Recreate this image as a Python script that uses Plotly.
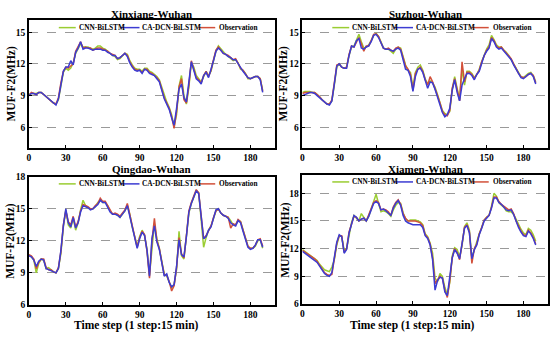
import plotly.graph_objects as go

W, H = 550, 340

steps = list(range(0, 191, 2))
x_ticks = [0, 30, 60, 90, 120, 150, 180]
legend_names = ["CNN-BiLSTM", "CA-DCN-BiLSTM", "Observation"]
panel_titles = ["Xinxiang-Wuhan", "Suzhou-Wuhan", "Qingdao-Wuhan", "Xiamen-Wuhan"]
y_title = "MUF-F2(MHz)"
x_title = "Time step (1 step:15 min)"

# ---------------- Xinxiang-Wuhan ----------------
xin_obs = [9.0, 9.3, 9.2, 9.1, 9.3, 9.3, 9.1, 8.9, 8.7, 8.5, 8.3, 8.2,
           8.8, 10.2, 11.3, 11.7, 11.6, 11.8, 12.0, 13.2, 13.6, 14.1, 13.5, 13.6,
           13.5, 13.5, 13.3, 13.4, 13.5, 13.5, 13.4, 13.3, 13.2, 13.0, 12.9, 12.8,
           12.5, 12.6, 12.8, 13.0, 12.8, 12.2, 11.8, 11.5, 11.4, 11.4, 11.2, 11.5,
           11.5, 11.2, 11.1, 10.9, 10.7, 10.4, 9.6, 8.8, 8.3, 7.8, 7.0, 5.9,
           7.5, 9.8, 10.6, 8.6, 8.3, 10.0, 12.3, 11.5, 10.7, 10.5, 10.2, 10.9,
           11.3, 10.8, 11.4, 12.4, 13.3, 13.6, 13.3, 13.0, 12.9, 12.8, 12.6, 12.4,
           12.5, 12.0, 11.6, 11.4, 11.0, 10.7, 10.6, 10.7, 10.8, 10.8, 10.6, 9.4]
xin_cnn = [9.1, 9.2, 9.2, 9.2, 9.3, 9.3, 9.1, 8.9, 8.7, 8.5, 8.3, 8.2,
           8.6, 9.9, 11.2, 11.6, 11.4, 11.6, 12.1, 13.0, 13.5, 13.9, 13.6, 13.6,
           13.6, 13.5, 13.4, 13.5, 13.7, 13.7, 13.5, 13.4, 13.2, 13.0, 12.8, 12.7,
           12.4, 12.5, 12.8, 13.0, 12.9, 12.3, 11.9, 11.6, 11.5, 11.5, 11.3, 11.6,
           11.6, 11.3, 11.2, 11.0, 10.8, 10.5, 9.8, 9.0, 8.4, 7.9, 7.2, 6.1,
           7.2, 9.9, 10.9, 9.0, 8.2, 9.8, 12.1, 11.7, 10.9, 10.6, 10.3, 10.8,
           11.3, 10.9, 11.3, 12.3, 13.2, 13.7, 13.4, 13.1, 12.9, 12.7, 12.5, 12.3,
           12.4, 12.1, 11.5, 11.4, 11.1, 10.6, 10.6, 10.7, 10.8, 10.8, 10.6, 9.5]
xin_cad = [9.0, 9.2, 9.2, 9.1, 9.3, 9.3, 9.1, 8.9, 8.7, 8.5, 8.3, 8.1,
           8.7, 10.0, 11.3, 11.7, 11.7, 12.3, 11.9, 13.1, 13.5, 14.1, 13.4, 13.5,
           13.5, 13.4, 13.3, 13.4, 13.4, 13.4, 13.3, 13.3, 13.1, 13.0, 12.8, 12.8,
           12.5, 12.6, 12.8, 13.0, 12.7, 12.1, 11.7, 11.4, 11.3, 11.4, 11.1, 11.5,
           11.4, 11.1, 11.0, 10.9, 10.6, 10.3, 9.5, 8.7, 8.2, 7.7, 6.9, 6.2,
           7.8, 9.6, 10.1, 8.8, 8.4, 10.2, 12.2, 11.4, 10.6, 10.4, 10.1, 10.9,
           11.2, 10.7, 11.4, 12.3, 13.2, 13.5, 13.3, 13.0, 12.9, 12.7, 12.6, 12.4,
           12.4, 12.0, 11.6, 11.3, 11.0, 10.7, 10.6, 10.7, 10.8, 10.8, 10.5, 9.3]

# ---------------- Suzhou-Wuhan ----------------
suz_obs = [9.2, 9.3, 9.3, 9.3, 9.3, 9.3, 9.1, 8.9, 8.6, 8.4, 8.2, 8.2,
           8.6, 10.2, 11.9, 12.0, 11.7, 11.6, 11.7, 12.9, 13.7, 13.6, 14.1, 14.5,
           13.9, 13.2, 13.7, 13.7, 14.2, 14.8, 14.85, 14.6, 14.0, 13.5, 13.4, 13.5,
           13.3, 13.2, 13.5, 13.6, 13.4, 12.6, 11.8, 11.5, 11.0, 9.5, 11.1, 11.5,
           11.7, 11.3, 10.5, 10.0, 10.8, 10.3, 9.7, 9.0, 8.3, 7.5, 7.2, 7.1,
           7.6, 9.7, 10.6, 9.5, 8.5, 12.2, 10.3, 11.2, 11.2, 11.0, 10.6, 11.0,
           11.4, 12.2, 12.8, 13.3, 13.6, 14.5, 14.2, 13.7, 13.5, 13.6, 13.3, 13.0,
           12.8, 12.5, 12.0, 11.5, 11.1, 10.8, 10.7, 10.8, 11.0, 11.1, 10.9, 10.2]
suz_cnn = [9.3, 9.4, 9.4, 9.4, 9.3, 9.3, 9.1, 8.9, 8.6, 8.4, 8.2, 8.2,
           8.5, 10.0, 11.7, 12.0, 11.7, 11.6, 11.7, 12.8, 13.6, 13.7, 14.3, 14.8,
           14.1, 13.5, 13.6, 13.8, 14.2, 14.7, 14.9, 14.6, 14.1, 13.5, 13.4, 13.4,
           13.2, 13.0, 13.4, 13.6, 13.5, 12.7, 11.9, 11.4, 11.2, 9.8, 11.2, 11.7,
           11.9, 11.4, 10.6, 10.1, 10.4, 10.2, 9.8, 9.1, 8.3, 7.6, 7.3, 7.2,
           7.5, 9.6, 10.8, 9.8, 8.6, 11.5, 10.0, 11.3, 11.3, 11.1, 10.7, 11.0,
           11.5, 12.2, 12.9, 13.4, 13.8, 14.7, 14.3, 13.8, 13.6, 13.6, 13.3, 13.1,
           12.8, 12.4, 12.0, 11.6, 11.2, 10.8, 10.7, 10.9, 11.1, 11.2, 10.9, 10.3]
suz_cad = [9.0, 9.1, 9.2, 9.3, 9.3, 9.2, 9.0, 8.8, 8.6, 8.4, 8.2, 8.1,
           8.5, 10.1, 11.8, 12.0, 11.7, 11.6, 11.6, 12.8, 13.7, 13.6, 14.2, 14.4,
           13.5, 13.4, 13.6, 13.7, 14.1, 14.7, 14.8, 14.5, 14.0, 13.5, 13.4, 13.4,
           13.3, 13.2, 13.4, 13.5, 13.3, 12.4, 11.5, 11.4, 10.8, 9.4, 10.8, 11.5,
           11.6, 11.2, 10.4, 9.7, 10.3, 10.2, 9.6, 8.9, 8.2, 7.4, 7.0, 7.2,
           7.8, 9.5, 10.5, 9.3, 8.5, 10.0, 10.6, 11.1, 11.1, 10.9, 10.5, 11.0,
           11.3, 12.1, 12.8, 13.2, 13.5, 14.4, 14.1, 13.6, 13.4, 13.5, 13.2, 12.9,
           12.7, 12.4, 11.9, 11.5, 11.1, 10.7, 10.6, 10.8, 11.0, 11.1, 10.8, 10.1]

# ---------------- Qingdao-Wuhan ----------------
qin_obs = [10.7, 10.6, 10.3, 9.4, 10.0, 10.3, 10.3, 9.5, 9.3, 9.3, 9.1, 9.0,
           9.5, 11.0, 13.5, 14.8, 13.8, 13.5, 14.3, 13.3, 13.8, 14.8, 15.4, 15.3,
           15.2, 15.0, 15.0, 15.3, 15.5, 16.0, 15.7, 15.7, 15.3, 14.8, 14.5, 14.6,
           14.5, 14.3, 14.6, 14.9, 15.5, 14.4, 13.2, 12.4, 11.4, 12.3, 12.9, 12.6,
           11.0, 8.5, 12.0, 14.1, 12.0, 11.3, 10.0, 8.8, 8.8, 8.2, 7.3, 7.8,
           9.5, 12.3, 10.8, 10.4, 12.5, 14.8, 15.6, 16.3, 16.8, 16.5, 14.0, 12.2,
           12.5, 13.0, 13.4, 14.2, 14.8, 15.0, 14.6, 14.4, 14.3, 14.2, 13.2, 13.6,
           13.5, 14.0, 13.8, 13.0, 12.3, 11.5, 11.3, 11.3, 11.6, 12.1, 12.2, 11.5]
qin_cnn = [10.7, 10.5, 10.2, 9.0, 9.9, 10.3, 10.2, 9.4, 9.5, 9.3, 9.1, 9.0,
           9.4, 10.8, 13.3, 14.9, 13.5, 13.2, 14.1, 13.0, 13.7, 14.9, 15.8, 15.3,
           15.1, 15.0, 15.0, 15.2, 15.6, 15.8, 15.6, 15.6, 15.3, 14.8, 14.5, 14.5,
           14.4, 14.2, 14.5, 14.8, 15.3, 14.5, 13.3, 12.5, 11.5, 12.4, 13.0, 12.5,
           11.2, 8.8, 11.6, 13.6, 12.2, 11.3, 10.1, 8.9, 8.7, 8.2, 7.6, 7.9,
           9.3, 12.9, 10.6, 10.3, 12.3, 14.6, 15.5, 16.2, 16.7, 16.5, 13.6, 11.4,
           12.3, 13.0, 13.4, 14.1, 14.8, 15.0, 14.6, 14.4, 14.3, 14.2, 13.9, 13.5,
           13.5, 13.9, 13.8, 13.0, 12.3, 11.5, 11.3, 11.3, 11.5, 12.0, 12.1, 11.3]
qin_cad = [10.6, 10.5, 10.2, 9.6, 10.1, 10.3, 10.2, 9.4, 9.3, 9.2, 9.1, 9.0,
           9.4, 11.1, 13.4, 15.0, 13.7, 13.3, 14.2, 13.2, 13.7, 14.7, 15.3, 15.2,
           15.1, 14.9, 15.0, 15.2, 15.4, 15.8, 15.6, 15.6, 15.2, 14.7, 14.5, 14.5,
           14.4, 14.2, 14.5, 14.8, 15.3, 14.3, 13.1, 12.3, 11.3, 12.2, 12.8, 12.5,
           11.1, 8.7, 12.2, 13.4, 11.9, 11.2, 9.9, 8.7, 8.9, 8.1, 7.7, 7.9,
           9.6, 12.1, 10.7, 10.5, 12.4, 14.7, 15.5, 16.2, 16.7, 16.4, 14.0, 12.2,
           12.4, 13.0, 13.3, 14.1, 14.9, 15.0, 14.6, 14.4, 14.3, 14.1, 13.7, 13.5,
           13.4, 13.9, 13.7, 12.9, 12.2, 11.4, 11.2, 11.3, 11.6, 12.1, 12.1, 11.4]

# ---------------- Xiamen-Wuhan ----------------
xia_obs = [11.8, 11.6, 11.4, 11.3, 11.1, 10.9, 10.6, 10.2, 9.8, 9.4, 9.2, 9.1,
           9.2, 11.0, 12.6, 13.4, 13.4, 11.6, 12.0, 13.8, 14.8, 15.5, 15.4, 15.0,
           15.2, 15.3, 15.0, 15.6, 16.3, 17.0, 17.2, 17.0, 16.2, 16.3, 16.2, 16.0,
           15.6, 16.5, 17.0, 17.3, 16.8, 15.8, 15.3, 15.0, 15.0, 15.0, 15.0, 14.9,
           14.8, 14.5, 13.5, 13.2, 12.5, 11.0, 8.2, 8.6, 9.0, 8.8, 7.5, 6.7,
           8.5, 11.0, 12.0, 11.6, 10.8, 12.5, 14.3, 14.6, 13.8, 10.4, 12.0, 12.5,
           13.6, 14.3, 15.1, 15.4, 15.6, 16.5, 17.6, 17.6, 17.1, 16.8, 16.6, 16.3,
           16.2, 16.3, 15.8, 15.0, 14.4, 13.9, 13.5, 13.4, 14.0, 13.7, 13.2, 12.5]
xia_cnn = [11.9, 11.7, 11.5, 11.3, 11.1, 10.9, 10.7, 10.3, 10.0, 9.7, 9.6, 9.5,
           10.0, 10.8, 12.4, 13.4, 13.3, 11.8, 12.0, 13.6, 14.8, 15.6, 15.3, 15.0,
           15.8, 15.4, 15.0, 15.5, 16.3, 17.0, 17.9, 16.9, 16.0, 16.1, 16.0, 15.8,
           15.5, 16.2, 16.7, 17.0, 16.9, 15.9, 15.2, 15.0, 15.1, 15.1, 15.1, 15.0,
           14.9, 14.6, 13.6, 13.3, 12.6, 11.5, 8.8, 8.4, 9.3, 9.0, 7.8, 7.0,
           8.3, 11.2, 12.1, 11.9, 11.1, 12.3, 14.4, 14.8, 14.0, 11.0, 11.9, 12.6,
           13.6, 14.3, 15.1, 15.4, 15.6, 16.6, 18.0, 17.7, 17.0, 16.7, 16.5, 16.1,
           16.0, 16.0, 15.7, 15.2, 14.6, 14.1, 13.7, 13.5, 14.2, 14.0, 13.5, 12.8]
xia_cad = [11.7, 11.5, 11.3, 11.1, 11.0, 10.8, 10.5, 10.1, 9.7, 9.3, 9.1, 9.0,
           9.4, 11.2, 12.7, 13.5, 13.3, 11.5, 11.9, 13.7, 14.8, 15.6, 15.4, 15.0,
           15.2, 15.3, 15.0, 15.5, 16.2, 16.9, 17.1, 16.9, 16.2, 16.3, 16.1, 15.9,
           15.6, 16.4, 16.9, 17.2, 16.7, 15.6, 15.0, 14.8, 14.7, 14.6, 14.6, 14.6,
           14.6, 14.3, 13.4, 13.1, 12.4, 10.8, 7.5, 8.5, 8.9, 8.8, 7.3, 6.9,
           8.7, 11.0, 11.9, 11.5, 10.9, 12.4, 14.2, 14.5, 13.7, 10.9, 11.9, 12.4,
           13.5, 14.2, 15.0, 15.3, 15.6, 16.4, 17.5, 17.5, 17.0, 16.8, 16.5, 16.2,
           16.1, 16.2, 15.7, 14.9, 14.3, 13.8, 13.4, 13.3, 13.9, 13.6, 13.1, 12.4]

# ---------------- styling ----------------
C_CNN = "#9ACD32"
C_CAD = "#3C3CD2"
C_OBS = "#D2503A"
FONT = "Liberation Serif, Times New Roman, serif"

def fx(px):
    return px / W

def fy(py):
    return 1 - py / H

panels = [
    dict(title=panel_titles[0], obs=xin_obs, cnn=xin_cnn, cad=xin_cad,
         box=(27, 274, 15, 147), yr=[4.07, 16.2], yt=[6, 9, 12, 15],
         title_y=9, ytitle_x=10, xtitle_x=None, legend_y=23.3),
    dict(title=panel_titles[1], obs=suz_obs, cnn=suz_cnn, cad=suz_cad,
         box=(301.5, 548, 15, 147), yr=[4.07, 16.2], yt=[6, 9, 12, 15],
         title_y=9, ytitle_x=283, xtitle_x=None, legend_y=23.3),
    dict(title=panel_titles[2], obs=qin_obs, cnn=qin_cnn, cad=qin_cad,
         box=(27, 274, 177, 309), yr=[6, 18], yt=[6, 9, 12, 15, 18],
         title_y=169, ytitle_x=9, xtitle_x=135, legend_y=184.3),
    dict(title=panel_titles[3], obs=xia_obs, cnn=xia_cnn, cad=xia_cad,
         box=(301.5, 548, 175, 308), yr=[6, 20], yt=[6, 9, 12, 15, 18],
         title_y=168.5, ytitle_x=284.5, xtitle_x=411.5, legend_y=182.3),
]

fig = go.Figure()
annotations = []
shapes = []

for i, p in enumerate(panels):
    n = "" if i == 0 else str(i + 1)
    xa, ya = "x" + n, "y" + n
    x0, x1, y0, y1 = p["box"]
    for name, ys, col in [(legend_names[0], p["cnn"], C_CNN),
                          (legend_names[2], p["obs"], C_OBS),
                          (legend_names[1], p["cad"], C_CAD)]:
        fig.add_trace(go.Scatter(x=steps[:len(ys)], y=ys, mode="lines", name=name,
                                 line=dict(color=col, width=1.5),
                                 xaxis=xa, yaxis=ya, showlegend=False))
    axis_common = dict(showline=True, linecolor="black", linewidth=1.5, mirror=True,
                       ticks="inside", ticklen=3, tickwidth=1, tickcolor="black",
                       zeroline=False,
                       tickfont=dict(family=FONT, size=9.5, color="black", weight="bold"))
    fig.update_layout(**{
        "xaxis" + n: dict(domain=[fx(x0), fx(x1)], anchor=ya, range=[0, 200],
                          tickvals=x_ticks, showgrid=False, **axis_common),
        "yaxis" + n: dict(domain=[fy(y1), fy(y0)], anchor=xa, range=p["yr"],
                          tickvals=p["yt"], showgrid=True, gridcolor="#9A9A9A",
                          griddash="dash", gridwidth=0.9, **axis_common),
    })
    # panel title
    annotations.append(dict(text=p["title"], x=fx((x0 + x1) / 2), y=fy(p["title_y"]),
                            xref="paper", yref="paper", showarrow=False,
                            xanchor="center", yanchor="middle",
                            font=dict(family=FONT, size=11, color="black", weight="bold")))
    # y-axis title
    annotations.append(dict(text=y_title, x=fx(p["ytitle_x"]), y=fy((y0 + y1) / 2),
                            xref="paper", yref="paper", showarrow=False, textangle=-90,
                            xanchor="center", yanchor="middle",
                            font=dict(family=FONT, size=11.5, color="black", weight="bold")))
    if p["xtitle_x"] is not None:
        annotations.append(dict(text=x_title, x=fx(p["xtitle_x"]), y=fy(330),
                                xref="paper", yref="paper", showarrow=False,
                                xanchor="center", yanchor="middle",
                                font=dict(family=FONT, size=11.5, color="black", weight="bold")))
    # custom in-plot legend
    ly = fy(p["legend_y"])
    for (l0, l1, tx), name, col in zip([(30, 47, 48), (92, 111, 112), (170, 187, 189)],
                                        legend_names, [C_CNN, C_CAD, C_OBS]):
        shapes.append(dict(type="line", xref="paper", yref="paper",
                           x0=fx(x0 + l0), x1=fx(x0 + l1), y0=ly, y1=ly,
                           line=dict(color=col, width=1.5)))
        annotations.append(dict(text=name, x=fx(x0 + tx), y=ly, xref="paper", yref="paper",
                                showarrow=False, xanchor="left", yanchor="middle",
                                font=dict(family=FONT, size=7.3, color="black", weight="bold")))

fig.update_layout(width=W, height=H, margin=dict(l=0, r=0, t=0, b=0),
                  paper_bgcolor="white", plot_bgcolor="white",
                  annotations=annotations, shapes=shapes, showlegend=False)

fig.write_html("out.html", config={"displayModeBar": False},
               post_script="document.body.style.margin='0';document.body.style.overflow='hidden';")
